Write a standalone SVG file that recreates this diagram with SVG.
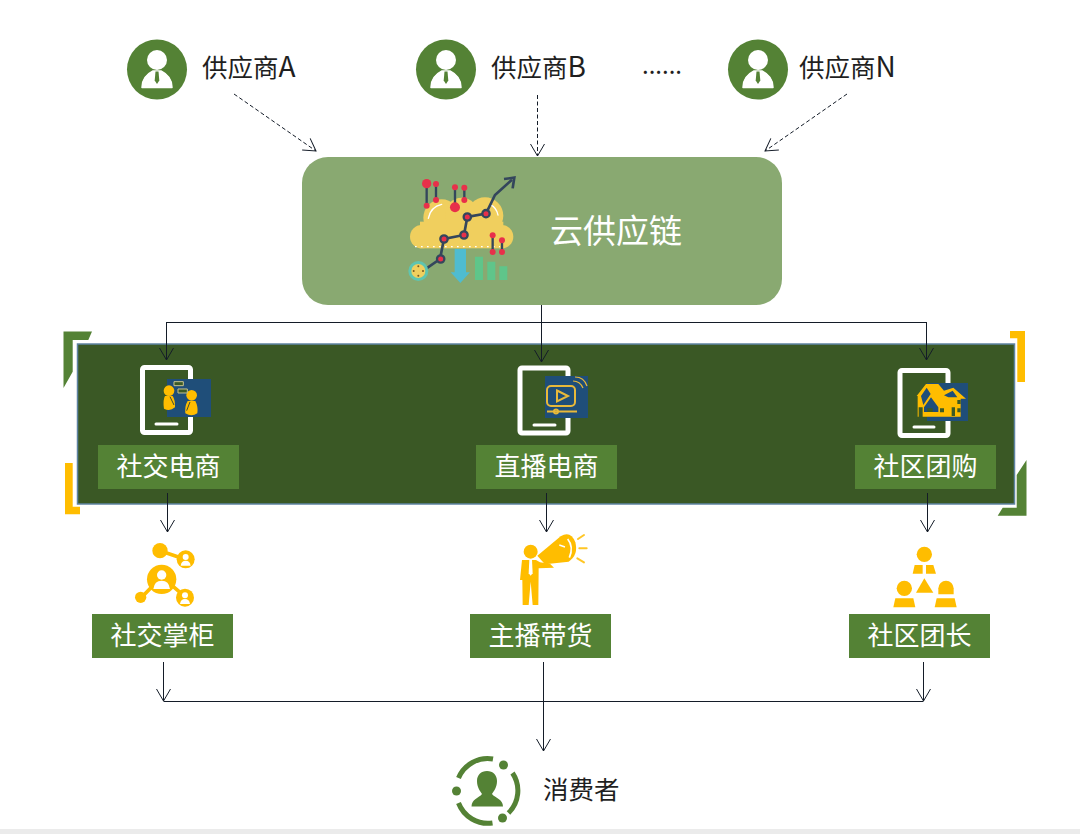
<svg xmlns="http://www.w3.org/2000/svg" width="1080" height="834" viewBox="0 0 1080 834">
<style>
.t{font-family:"Noto Sans CJK SC","Noto Sans",sans-serif}
.dk{fill:#1f1f1f;font-size:25.5px}
.wh{fill:#fff;font-size:26px;text-anchor:middle}
.lb{fill:#548235}
.c{fill:none;stroke:#141c28;stroke-width:1}
.d{stroke-dasharray:4 2.5}
.y{fill:#ffbd00}
.tab{fill:none;stroke:#fff;stroke-width:5}
.blue{fill:#1f4e79}
</style>
<defs>
<marker id="a" markerUnits="userSpaceOnUse" markerWidth="18" markerHeight="16" refX="13" refY="7" orient="auto" overflow="visible">
<path d="M1 0L13 7L1 14" fill="none" stroke="#141c28" stroke-width="1"/>
</marker>
<g id="sup">
<circle r="30" fill="#548235"/>
<circle cy="-9.500" r="10" fill="#fff"/>
<path d="M-15 18C-15 8 -9 4 -4 1.500L4 1.500C9 4 15 8 15 18Z" fill="#fff" stroke="#fff" stroke-width="1.500" stroke-linejoin="round"/>
<path d="M-1.500 2H1.500L2.300 11L0 14.500L-2.300 11Z" fill="#548235"/>
</g>
</defs>
<rect width="1080" height="834" fill="#fff"/>
<rect y="829" width="1080" height="5" fill="#ebebeb"/>

<g id="corners">
<path d="M63.500 331.500H92L88.300 340H72.700V371.700L63.500 388Z" fill="#548235"/>
<path d="M65 463H72.700V506.700H80V514.300H65Z" class="y"/>
<path d="M1010 331H1025V382H1017.300V338.300H1010Z" class="y"/>
<path d="M1026.500 460V515.700H997.700L1002.700 507.700H1016.700V475Z" fill="#548235"/>
</g>

<g id="panel"><rect x="77.500" y="344" width="937" height="160" fill="#3a5825" stroke="#5f84a3" stroke-width="1.500"/></g>

<g id="cloud-supply">
<rect x="302" y="157" width="480" height="148" rx="26" fill="#89a971"/>
<g transform="translate(390 165) scale(.3333)">
<g fill="#f0cf5e">
<circle cx="95" cy="215" r="35"/><circle cx="335" cy="215" r="35"/>
<circle cx="155" cy="158" r="55"/><circle cx="215" cy="148" r="50"/><circle cx="285" cy="152" r="55"/>
<rect x="90" y="170" width="250" height="80"/>
</g>
<path d="M115 160Q122 125 155 118M300 118Q320 128 324 150" fill="none" stroke="#fff" stroke-width="4" stroke-linecap="round"/>
<path d="M75 245H330" stroke="#fff" stroke-width="4" stroke-dasharray="5 13" fill="none"/>
<path d="M88 325L150 282L162 222L222 210L232 156L288 146L315 90L366 44" fill="none" stroke="#34465c" stroke-width="8"/>
<path d="M342 42L373 38L368 70" fill="none" stroke="#34465c" stroke-width="8"/>
<g fill="none" stroke="#34465c" stroke-width="7"><path d="M110 58V122M138 58V105M195 68V125M223 68V105M308 212V260M336 226V260"/></g>
<g fill="#e8304a"><circle cx="110" cy="56" r="14"/><circle cx="110" cy="122" r="9"/><circle cx="138" cy="57" r="9"/><circle cx="138" cy="105" r="9"/><circle cx="195" cy="67" r="9"/><circle cx="195" cy="127" r="15"/><circle cx="223" cy="68" r="9"/><circle cx="223" cy="105" r="9"/><circle cx="308" cy="211" r="9"/><circle cx="308" cy="261" r="9"/><circle cx="336" cy="226" r="9"/><circle cx="336" cy="261" r="9"/></g>
<g fill="#e8304a" stroke="#34465c" stroke-width="7"><circle cx="152" cy="282" r="11"/><circle cx="162" cy="222" r="11"/><circle cx="222" cy="210" r="11"/><circle cx="232" cy="156" r="11"/><circle cx="288" cy="146" r="11"/></g>
<circle cx="85" cy="318" r="30" fill="#5fc5b0"/><circle cx="85" cy="318" r="21" fill="#f0cf5e"/>
<g fill="#7a5a20"><circle cx="85" cy="304" r="3"/><circle cx="71" cy="318" r="3"/><circle cx="99" cy="318" r="3"/><circle cx="85" cy="332" r="3"/></g>
<path d="M194 252H228V322H240L211 354L182 322H194Z" fill="#4fbcd0"/>
<path d="M255 275H279V345H255ZM292 290H316V345H292ZM328 304H352V345H328Z" fill="#5fc58a"/>
</g>
<text class="t" x="550" y="243" font-size="33" fill="#fff">云供应链</text>
</g>

<g id="supplier-a"><use href="#sup" x="157" y="69.500"/><text class="t dk" x="202" y="77">供应商<tspan style="font-size:28px">A</tspan></text></g>
<g id="supplier-b"><use href="#sup" x="446" y="69.500"/><text class="t dk" x="491" y="77">供应商<tspan style="font-size:28px">B</tspan></text></g>
<g id="supplier-dots"><text class="t dk" x="642" y="74" style="font-size:24px">......</text></g>
<g id="supplier-n"><use href="#sup" x="758" y="69.500"/><text class="t dk" x="799" y="77">供应商<tspan style="font-size:28px">N</tspan></text></g>

<g id="social-commerce">
<rect class="tab" x="142.500" y="367.500" width="48" height="65" rx="2"/>
<path d="M156 424H177" stroke="#fff" stroke-width="3" stroke-linecap="round"/>
<rect class="blue" x="167" y="379" width="44" height="38"/>
<g transform="translate(50 320) scale(.3333)">
<circle cx="357" cy="212" r="16" class="y"/><path d="M345 228H368Q376 240 375 262Q360 275 342 266Q338 240 345 228Z" class="y"/>
<path d="M360 230L372 255" stroke="#3a4a3a" stroke-width="3"/>
<circle cx="425" cy="226" r="16" class="y"/><path d="M413 243H436Q445 260 442 280Q425 292 406 280Q404 258 413 243Z" class="y"/>
<path d="M420 246L410 272" stroke="#3a4a3a" stroke-width="3"/>
<path d="M372 185H400V197H372ZM384 207H412V219H384Z" fill="#3b5a25" stroke="#c9c48f" stroke-width="3"/>
</g>
<rect class="lb" x="98" y="445" width="141" height="44"/>
<text class="t wh" x="168.500" y="476">社交电商</text>
</g>

<g id="live-commerce">
<rect class="tab" x="520" y="368" width="48" height="65" rx="2"/>
<path d="M534 425H555" stroke="#fff" stroke-width="3" stroke-linecap="round"/>
<rect class="blue" x="545" y="376" width="43" height="42"/>
<g fill="none" stroke="#e8b93a" stroke-width="2">
<rect x="547" y="386" width="28" height="20" rx="4"/>
<path d="M557 390.500L568 396L557 401.500Z"/>
<path d="M547 411.500H577"/>
<circle cx="556" cy="411.500" r="2"/>
<path d="M573 381Q580 381 583 388M575 377Q584 377 587 386" stroke-width="1.200"/>
</g>
<rect class="lb" x="476" y="445" width="141" height="44"/>
<text class="t wh" x="546.500" y="476">直播电商</text>
</g>

<g id="group-buying">
<rect class="tab" x="900" y="370.500" width="48" height="65" rx="2"/>
<path d="M914 427H934" stroke="#fff" stroke-width="3" stroke-linecap="round"/>
<rect class="blue" x="927" y="383" width="41" height="38"/>
<g transform="translate(870 320) scale(.3333)">
<path d="M140 228L168 192H205L222 212L250 203L288 236L272 236V290H158V262L146 262V290H143V228Z" class="y"/>
<path d="M153 228L170 203L182 222L160 255ZM162 262L183 232L205 262V276H162ZM222 226L248 212L262 232H235Z" fill="#1f4e79"/>
<path d="M172 265H188V276H172ZM210 265H222V277H210ZM245 262H255V288H245ZM262 240H272V252H262ZM262 265H272V277H262Z" fill="#3b5a25"/>
</g>
<rect class="lb" x="855" y="445" width="141" height="44"/>
<text class="t wh" x="925.500" y="476">社区团购</text>
</g>

<g id="social-shopkeeper">
<g transform="translate(120 530) scale(.3333)">
<path d="M120 62L195 88M125 140L65 202M125 140L195 200" stroke="#ffbd00" stroke-width="11" fill="none"/>
<circle cx="120" cy="62" r="23" class="y"/>
<circle cx="197" cy="88" r="27" class="y"/>
<circle cx="125" cy="148" r="44" class="y"/>
<circle cx="62" cy="202" r="17" class="y"/>
<circle cx="195" cy="203" r="27" class="y"/>
<g fill="#fff">
<circle cx="197" cy="81" r="9"/><path d="M182 107Q184 92 197 92Q210 92 212 107Z"/>
<circle cx="125" cy="135" r="14"/><path d="M100 177Q103 152 125 152Q147 152 150 177Z"/>
<circle cx="195" cy="196" r="9"/><path d="M180 222Q182 207 195 207Q208 207 210 222Z"/>
</g>
</g>
<rect class="lb" x="92" y="614" width="141" height="44"/>
<text class="t wh" x="162.500" y="645">社交掌柜</text>
</g>

<g id="host">
<g transform="translate(500 525) scale(.3333)">
<circle cx="92" cy="80" r="21" class="y"/>
<path d="M66 105H108L120 112L150 116L162 128L116 130L115 240H98L92 170L86 240H68L67 165H60Z" class="y"/>
<path d="M88 105H96L98 145L92 152L86 145Z" fill="#fff"/>
<path d="M112 92L182 34Q212 16 226 52Q236 90 206 110L135 118Z" class="y"/>
<path d="M203 42Q222 65 208 98" fill="none" stroke="#fff" stroke-width="5"/>
<path d="M178 60L195 66" stroke="#fff" stroke-width="4"/>
<path d="M234 42L252 30M238 70H260M232 100L252 112" stroke="#ffbd00" stroke-width="6" stroke-linecap="round" opacity=".85"/>
</g>
<rect class="lb" x="470" y="614" width="141" height="44"/>
<text class="t wh" x="540.500" y="645">主播带货</text>
</g>

<g id="group-leader">
<g transform="translate(880 535) scale(.3333)">
<circle cx="133" cy="58" r="23" class="y"/>
<path d="M104 90H128V116H98ZM138 90H160L168 116H138Z" class="y"/>
<path d="M133 130L160 173H108Z" class="y"/>
<circle cx="73" cy="160" r="23" class="y"/>
<path d="M46 190H100L106 217H40Z" class="y"/>
<path d="M175 178V160A23 23 0 0 1 221 160V178Z" class="y"/>
<path d="M170 190H224L230 217H164Z" class="y"/>
</g>
<rect class="lb" x="849" y="614" width="141" height="44"/>
<text class="t wh" x="919.500" y="645">社区团长</text>
</g>

<g id="consumer">
<g fill="none" stroke="#548235" stroke-width="5">
<path d="M458.500 778A31.500 31.500 0 0 1 493 759"/>
<path d="M512.500 773A31.500 31.500 0 0 1 508.500 813"/>
<path d="M458.500 803A31.500 31.500 0 0 0 492.500 823"/>
</g>
<g fill="#548235">
<circle cx="503.500" cy="765" r="4.500"/><circle cx="456.500" cy="791" r="4.500"/><circle cx="502.500" cy="818" r="4.500"/>
<path d="M477 781C477 775 481 771 487 771C493 771 497 775 497 781C497 787 494 791 492 794C495 798 503 799 503 806.500H471.500C471.500 799 479 798 482 794C480 791 477 787 477 781Z"/>
</g>
<text class="t dk" x="543" y="799">消费者</text>
</g>

<g id="connectors">
<path class="c d" d="M234 94L316 151" marker-end="url(#a)"/>
<path class="c d" d="M537.500 95V156" marker-end="url(#a)"/>
<path class="c d" d="M847 94L765 151" marker-end="url(#a)"/>
<path class="c" d="M541.500 305V362" marker-end="url(#a)"/>
<path class="c" d="M166.500 322.500H926.500"/>
<path class="c" d="M166.500 322V360" marker-end="url(#a)"/>
<path class="c" d="M926.500 322V360" marker-end="url(#a)"/>
<path class="c" d="M167.500 493V532" marker-end="url(#a)"/>
<path class="c" d="M546.500 493V532" marker-end="url(#a)"/>
<path class="c" d="M927.500 493V532" marker-end="url(#a)"/>
<path class="c" d="M163.500 662V701" marker-end="url(#a)"/>
<path class="c" d="M923.500 662V701" marker-end="url(#a)"/>
<path class="c" d="M163.500 701.500H923.500"/>
<path class="c" d="M543.500 662V751" marker-end="url(#a)"/>
</g>
</svg>
